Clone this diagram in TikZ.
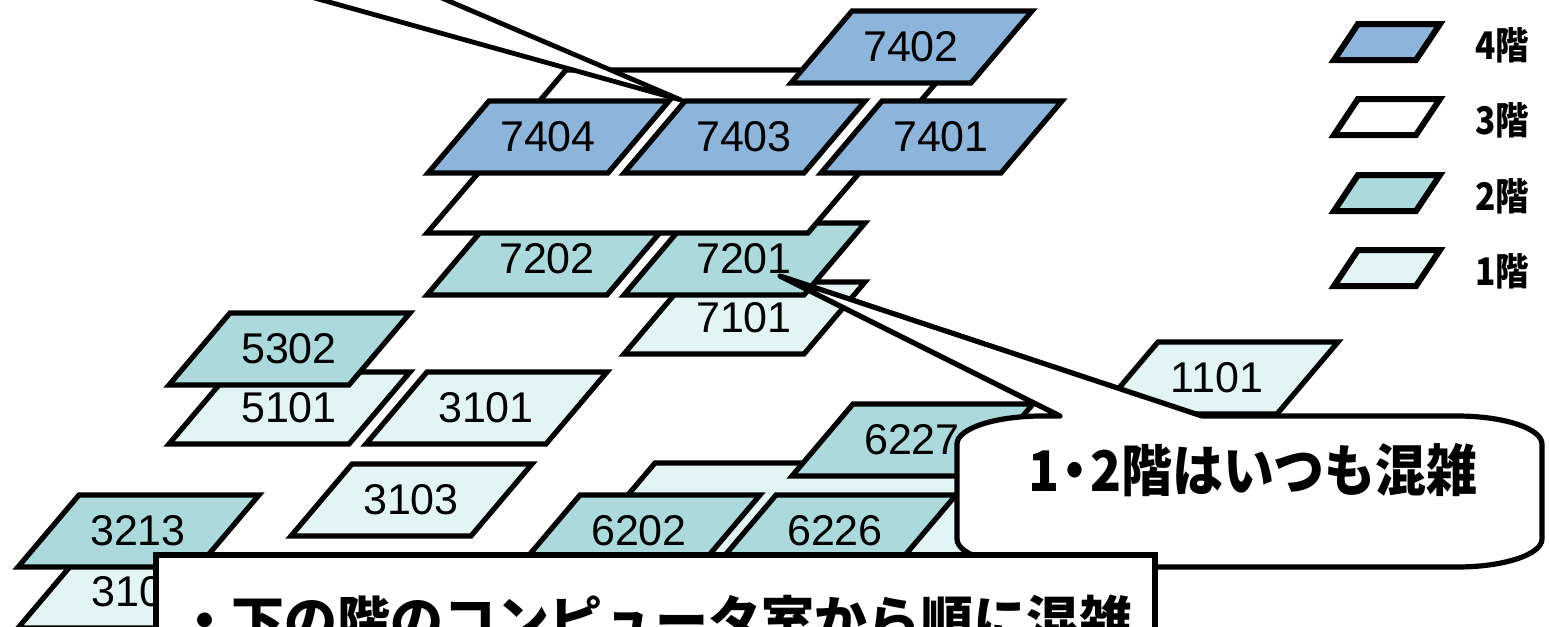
\documentclass[tikz,border=0pt]{standalone}
\usepackage{graphicx}
\usepackage{fontspec}
\setmainfont{Liberation Sans}
\newfontfamily\jp{Noto Sans CJK JP}
\definecolor{c4}{HTML}{8DB4DA}
\definecolor{c2}{HTML}{ACD9DC}
\definecolor{c1}{HTML}{E3F4F4}
\tikzset{
  room/.style={draw=black, line width=2.6pt, line join=miter},
  f4/.style={room, fill=c4},
  f3/.style={room, fill=white},
  f2/.style={room, fill=c2},
  f1/.style={room, fill=c1},
  lbl/.style={font=\fontsize{21.5}{24}\selectfont, inner sep=0pt},
  key/.style={line width=3pt},
  keytxt/.style={font=\jp\bfseries\fontsize{19}{21}\selectfont, anchor=west, inner sep=0pt},
  talk/.style={draw=black, line width=2.6pt, fill=white, line join=round},
}
\newcommand\flr[5]{%
  \draw[#4] (#2,#3) -- ++(180,0) -- ++(61,-72) -- ++(-180,0) -- cycle;
  \node[lbl] (#1) at ({#2+120},{#3-36}) {#5};}
\newcommand\keytext[1]{\scalebox{0.88}[1]{#1}}
\begin{document}
\begin{tikzpicture}[x=0.5pt,y=-0.5pt]
\useasboundingbox (0,0) rectangle (1549,627);
\clip (0,0) rectangle (1549,627);
% building 7: floors 1-2
\flr{r7101}{624}{354}{f1}{7101}
\flr{r7201}{624}{295}{f2}{7201}
\flr{r7202}{427}{295}{f2}{7202}
% floor 3
\draw[f3] (427,233) -- (808,233) -- (947,70) -- (566,70) -- cycle;
% floor 4
\flr{r7402}{791}{83}{f4}{7402}
\flr{r7404}{428}{173}{f4}{7404}
\flr{r7403}{624}{173}{f4}{7403}
\flr{r7401}{821}{173}{f4}{7401}
% tail of an off-picture callout
\coordinate (t1) at (214,-30);
\coordinate (t2) at (376,-30);
\coordinate (tip1) at (681,100);
\draw[talk, line width=2.4pt] (t1) -- (tip1) -- (t2) -- cycle;
% buildings 5 and 3
\flr{r5101}{169}{444}{f1}{5101}
\flr{r5302}{169}{385}{f2}{5302}
\flr{r3101}{366}{444}{f1}{3101}
\flr{r3103}{291}{536}{f1}{3103}
\draw[f1] (18,628) -- ++(180,0) -- ++(61,-72) -- ++(-180,0) -- cycle;
\node[lbl, anchor=west] (r310) at (91,592) {310};
\flr{r3213}{18}{567}{f2}{3213}
% building 6 and 1
\draw[f1] (533,607) -- (918,607) -- (1040,463) -- (655,463) -- cycle;
\flr{r6227}{792}{476}{f2}{6227}
\flr{r6202}{519}{567}{f2}{6202}
\flr{r6226}{715}{567}{f2}{6226}
\flr{r1101}{1097}{414}{f1}{1101}
% callout
\coordinate (tip2) at (780,276);
\draw[talk] (1202,416) -- (1457,416) .. controls (1504,416) and (1542,428.5) .. (1542,444)
  -- (1542,539) .. controls (1542,554.5) and (1504,567) .. (1457,567)
  -- (1042,567) .. controls (995,567) and (957,554.5) .. (957,539)
  -- (957,444) .. controls (957,428.5) and (995,416) .. (1042,416)
  -- (1060,416) -- (tip2) -- cycle;
\node[anchor=base west, inner sep=0pt, font=\jp\bfseries\fontsize{28}{30}\selectfont] (msg1) at (1028,491)
  {\scalebox{0.91}[1]{1\kern-0.2em・\kern-0.2em2階はいつも混雑}};
% bottom box
\draw[room, fill=white] (156,555) rectangle (1155,700);
\node[anchor=base west, inner sep=0pt, font=\jp\bfseries\fontsize{26.5}{30}\selectfont] (msg2) at (178,640)
  {・下の階のコンピュータ室から順に混雑};
% legend
\draw[f4, key] (1334,60) -- ++(82,0) -- ++(24,-36) -- ++(-82,0) -- cycle;
\node[keytxt] (key4) at (1475,45) {\keytext{4階}};
\draw[f3, key] (1334,135) -- ++(82,0) -- ++(24,-36) -- ++(-82,0) -- cycle;
\node[keytxt] (key3) at (1475,120) {\keytext{3階}};
\draw[f2, key] (1334,211) -- ++(82,0) -- ++(24,-36) -- ++(-82,0) -- cycle;
\node[keytxt] (key2) at (1475,196) {\keytext{2階}};
\draw[f1, key] (1334,286) -- ++(82,0) -- ++(24,-36) -- ++(-82,0) -- cycle;
\node[keytxt] (key1) at (1475,271) {\keytext{1階}};
\end{tikzpicture}
\end{document}
